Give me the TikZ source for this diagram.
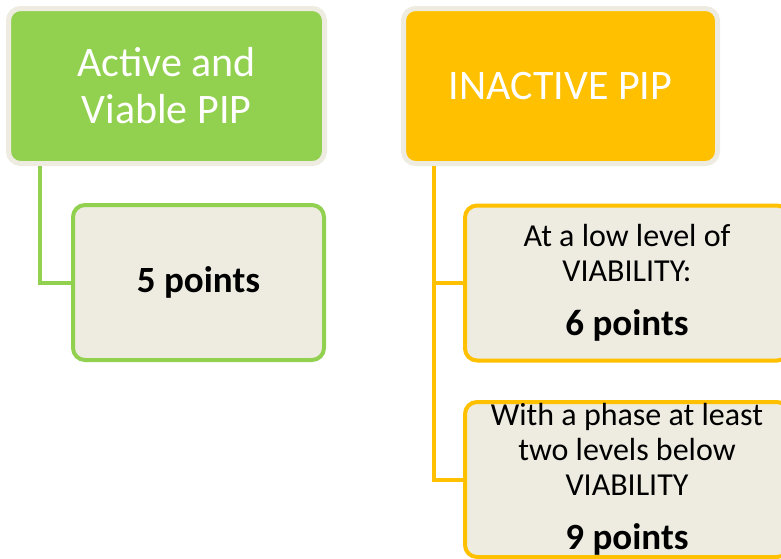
\documentclass[tikz,border=0pt]{standalone}
\usepackage{fontspec}
\setmainfont{Carlito}
\definecolor{leafgreen}{HTML}{92D050}
\definecolor{ambergold}{HTML}{FFC000}
\definecolor{paper}{HTML}{EEECE1}
\begin{document}
\begin{tikzpicture}[x=1pt,y=-1pt,
  headbox/.style={rectangle, rounded corners=12pt, draw=paper, line width=5pt,
    text=white, align=center, minimum width=316pt, minimum height=155pt,
    inner sep=0pt, font=\fontsize{42}{47}\selectfont},
  leafbox/.style={rectangle, rounded corners=12pt, fill=paper, line width=4pt,
    text=black, align=center, minimum width=251pt, minimum height=155pt,
    inner sep=0pt},
  gline/.style={draw=leafgreen, line width=4pt},
  oline/.style={draw=ambergold, line width=4pt},
  bodytxt/.style={font=\fontsize{32}{35}\selectfont},
  ptstxt/.style={font=\fontsize{37}{37}\selectfont\bfseries}
]
\useasboundingbox (0,0) rectangle (781,558);
\clip (0,0) rectangle (781,558);
\fill[white] (0,0) rectangle (781,558);

% left branch
\node[headbox, fill=leafgreen] (act) at (166.5,86) {Active and\\Viable PIP};
\node[leafbox, draw=leafgreen, ptstxt] (pts5) at (198.5,282.5) {5 points};
\draw[gline] ([xshift=34pt]act.south west) |- (pts5.west);

% right branch
\node[headbox, fill=ambergold, minimum width=314pt] (inact) at (560.5,86) {INACTIVE PIP};
\node[leafbox, draw=ambergold, minimum width=324pt, bodytxt]
  (low) at (627,283)
  {At a low level of\\VIABILITY:\\[19pt]{\fontsize{37}{37}\selectfont\bfseries 6 points}};
\node[leafbox, draw=ambergold, minimum width=324pt, bodytxt]
  (two) at (627,479.5)
  {With a phase at least\\two levels below\\VIABILITY\\[19pt]{\fontsize{37}{37}\selectfont\bfseries 9 points}};
\draw[oline] ([xshift=33pt]inact.south west) |- (low.west);
\draw[oline] ([xshift=33pt]inact.south west) |- (two.west);
\end{tikzpicture}
\end{document}
